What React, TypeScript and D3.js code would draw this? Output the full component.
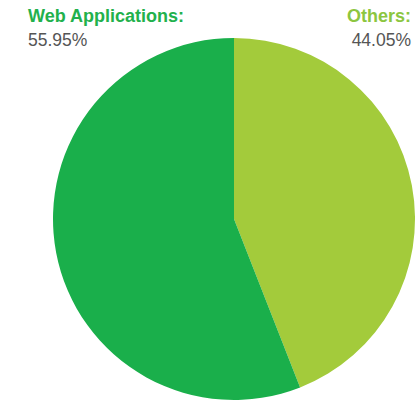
import React from "react";
import * as d3 from "d3";

const categories = ["Others", "Web Applications"];
const values = [44.05, 55.95];
const labels = ["44.05%", "55.95%"];
const colors = ["#a3cb3b", "#1aaf4b"];

export default function App() {
  const W = 417, H = 403;
  const cx = 234, cy = 219, r = 181;
  const pie = d3.pie<number>().sort(null).value((d) => d)(values);
  const arc = d3.arc<d3.PieArcDatum<number>>().innerRadius(0).outerRadius(r);
  return (
    <svg width={W} height={H} style={{ position: "absolute", left: 0, top: 0, background: "#fff" }}
      fontFamily="'Liberation Sans', Arial, sans-serif">
      <g transform={`translate(${cx},${cy})`}>
        {pie.map((p, i) => (
          <path key={i} d={arc(p) || ""} fill={colors[i]} />
        ))}
      </g>
      <text x={28} y={22} fontSize={18} fontWeight="bold" fill="#22b14c">{categories[1] + ":"}</text>
      <text x={28} y={46} fontSize={17.5} fill="#555">{labels[1]}</text>
      <text x={411} y={22} fontSize={18} fontWeight="bold" fill="#8cc63f" textAnchor="end">{categories[0] + ":"}</text>
      <text x={411} y={46} fontSize={17.5} fill="#555" textAnchor="end">{labels[0]}</text>
    </svg>
  );
}
